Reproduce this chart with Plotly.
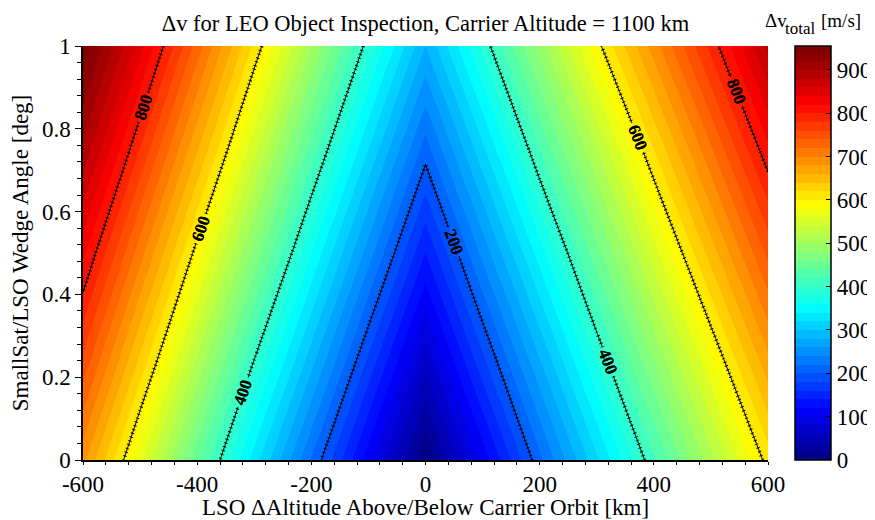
import plotly.graph_objects as go

# Δv [m/s], grid of LSO altitude offset (km) x wedge angle (deg)
alt_km = [-600, -500, -400, -300, -200, -100, 0, 100, 200, 300, 400, 500, 600]
wedge_deg = [0, 0.25, 0.5, 0.75, 1.0]
dv_w000 = [686, 565, 446, 331, 219, 109, 0, 107, 214, 316, 416, 512, 609]
dv_w025 = [758, 638, 520, 402, 291, 179, 70, 177, 281, 384, 483, 580, 677]
dv_w050 = [826, 709, 591, 475, 361, 250, 140, 246, 350, 452, 551, 649, 745]
dv_w075 = [896, 779, 662, 546, 432, 320, 210, 315, 420, 520, 620, 717, 815]
dv_w100 = [955, 848, 731, 615, 502, 390, 280, 386, 489, 592, 690, 787, 885]
dv = [dv_w000, dv_w025, dv_w050, dv_w075, dv_w100]

x_tickvals = [-600, -400, -200, 0, 200, 400, 600]
x_ticktext = ["-600", "-400", "-200", "0", "200", "400", "600"]
y_tickvals = [0, 0.2, 0.4, 0.6, 0.8, 1]
y_ticktext = ["0", "0.2", "0.4", "0.6", "0.8", "1"]
cb_tickvals = [0, 100, 200, 300, 400, 500, 600, 700, 800, 900]

jet = [[0, "#000080"], [0.125, "#0000ff"], [0.375, "#00ffff"],
       [0.625, "#ffff00"], [0.875, "#ff0000"], [1, "#800000"]]

FONT = "Liberation Serif"
W, H = 867, 512  # page body adds an 8px offset

label_font = dict(family=FONT, size=17, color="black", weight="bold")

fig = go.Figure()
fig.add_trace(go.Contour(
    x=alt_km, y=wedge_deg, z=dv,
    colorscale=jet, zmin=0, zmax=955,
    contours=dict(coloring="fill", start=0, end=960, size=20),
    line=dict(width=0, smoothing=0),
    colorbar=dict(
        x=1.0395, xanchor="left", xpad=0,
        y=0, yanchor="bottom", len=1, lenmode="fraction", ypad=0,
        thickness=36, outlinewidth=1.5, outlinecolor="black",
        ticks="inside", ticklen=5, tickcolor="black",
        tickvals=cb_tickvals,
        tickfont=dict(family=FONT, size=23, color="black"),
    ),
    showlegend=False,
    hoverinfo="skip",
))
# hachure-like comb on the contour lines
fig.add_trace(go.Contour(
    x=alt_km, y=wedge_deg, z=dv,
    contours=dict(coloring="none", start=200, end=800, size=200,
                  showlabels=True, labelfont=label_font),
    line=dict(color="black", width=3.5, smoothing=0, dash="1px,3px"),
    showscale=False, showlegend=False,
    hoverinfo="skip",
))
fig.add_trace(go.Contour(
    x=alt_km, y=wedge_deg, z=dv,
    contours=dict(coloring="none", start=200, end=800, size=200,
                  showlabels=True, labelfont=label_font),
    line=dict(color="black", width=1, smoothing=0),
    showscale=False, showlegend=False,
    hoverinfo="skip",
))

cb_title_font = dict(family=FONT, size=19, color="black")
fig.update_layout(
    width=W, height=H,
    showlegend=False,
    margin=dict(l=75, r=107, t=38, b=60, autoexpand=False),
    paper_bgcolor="white", plot_bgcolor="white",
    font=dict(family=FONT, size=23, color="black"),
    title=dict(text="Δv for LEO Object Inspection, Carrier Altitude = 1100 km",
               x=0.5, xref="paper", xanchor="center",
               y=1 - 15 / H, yanchor="middle",
               font=dict(family=FONT, size=22.5, color="black")),
    xaxis=dict(range=[-600, 600], tickvals=x_tickvals, ticktext=x_ticktext,
               showgrid=False, zeroline=False, automargin=False,
               showline=True, linecolor="black", linewidth=1.5,
               ticks="outside", ticklen=3, tickcolor="black",
               minor=dict(dtick=40, ticks="outside", ticklen=3, tickcolor="black"),
               title=dict(text="LSO ΔAltitude Above/Below Carrier Orbit [km]",
                          standoff=14, font=dict(size=23))),
    yaxis=dict(range=[0, 1], tickvals=y_tickvals, ticktext=y_ticktext,
               showgrid=False, zeroline=False, automargin=False,
               showline=True, linecolor="black", linewidth=1.5,
               ticks="outside", ticklen=6, tickcolor="black",
               minor=dict(dtick=0.04, ticks="outside", ticklen=4, tickcolor="black"),
               title=dict(text="SmallSat/LSO Wedge Angle [deg]",
                          font=dict(size=23))),
    annotations=[
        dict(text="Δv", xref="paper", yref="paper", x=0.9923, y=1.062,
             xanchor="left", yanchor="middle", showarrow=False, font=cb_title_font),
        dict(text="total", xref="paper", yref="paper", x=1.0215, y=1.0427,
             xanchor="left", yanchor="middle", showarrow=False,
             font=dict(family=FONT, size=17, color="black")),
        dict(text="[m/s]", xref="paper", yref="paper", x=1.0740, y=1.062,
             xanchor="left", yanchor="middle", showarrow=False, font=cb_title_font),
    ],
)

fig.write_html("out.html")
